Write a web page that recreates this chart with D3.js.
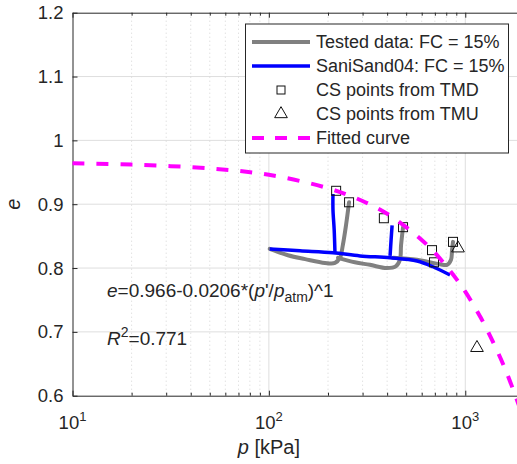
<!DOCTYPE html>
<html>
<head>
<meta charset="utf-8">
<script src="https://cdn.jsdelivr.net/npm/d3@7"></script>
<style>
  body { margin: 0; background: #fff; }
  svg { display: block; font-family: "Liberation Sans", Arial, sans-serif; }
</style>
</head>
<body>
<div id="chart"></div>
<script>
// tested data (gray), one path per shear test, starting from the consolidation line
const testedP1 = [101, 125, 153, 193, 217, 230, 238, 247, 256]
const testedE1 = [0.830, 0.820, 0.814, 0.808, 0.808, 0.816, 0.836, 0.867, 0.903]
const testedP2 = [225, 274, 327, 399, 444, 465, 471, 482]
const testedE2 = [0.816, 0.809, 0.805, 0.800, 0.803, 0.813, 0.836, 0.864]
const testedP3 = [429, 568, 743, 807, 846, 856, 866]
const testedE3 = [0.816, 0.813, 0.806, 0.805, 0.813, 0.828, 0.841]

// SaniSand04 simulation (blue)
const simP1 = [101, 144, 212, 291, 414, 568, 685, 836]
const simE1 = [0.830, 0.827, 0.824, 0.819, 0.816, 0.811, 0.802, 0.789]
const simP2 = [217, 215, 212, 212]
const simE2 = [0.824, 0.860, 0.891, 0.916]
const simP3 = [414, 419, 424]
const simE3 = [0.819, 0.844, 0.867]

// critical state points
const tmdP = [220, 256, 385, 482, 677, 693, 866]
const tmdE = [0.921, 0.903, 0.878, 0.864, 0.828, 0.809, 0.841]
const tmuP = [918, 1147]
const tmuE = [0.831, 0.675]

// fitted curve
const fitP = [10, 20, 50, 100, 200, 300, 400, 500, 600, 700, 800, 900, 1000, 1200, 1400, 1600, 1800, 1900]
const fitE = [0.964, 0.962, 0.956, 0.946, 0.925, 0.905, 0.885, 0.864, 0.844, 0.824, 0.803, 0.783, 0.763, 0.722, 0.681, 0.641, 0.600, 0.580]

const yTicks = [0.6, 0.7, 0.8, 0.9, 1, 1.1, 1.2]
const xDecades = [10, 100, 1000]

const legendLabels = ['Tested data: FC = 15%', 'SaniSand04: FC = 15%', 'CS points from TMD', 'CS points from TMU', 'Fitted curve']

const width = 517
const height = 464
const margin = { left: 72.5, top: 12.7, bottom: 68.3 }
const ink = '#262626'
const grayLine = '#808080'
const blueLine = '#0000ff'
const magenta = '#ff00ff'

const svg = d3.select('#chart').append('svg')
  .attr('width', width)
  .attr('height', height)

const x = d3.scaleLog()
  .domain([10, 2000])
  .range([margin.left, 524.4])
const y = d3.scaleLinear()
  .domain([0.6, 1.2])
  .range([height - margin.bottom, margin.top])

const minorX = []
for (const d of [10, 100, 1000]) {
  for (let k = 2; k <= 9; k++) if (d * k <= 2000) minorX.push(d * k)
}

// grid
const grid = svg.append('g')
grid.selectAll('.ygrid')
  .data(yTicks.slice(1, -1))
  .enter()
  .append('line')
  .attr('x1', margin.left)
  .attr('x2', width)
  .attr('y1', d => y(d))
  .attr('y2', d => y(d))
  .attr('stroke', '#dedede')
  .attr('stroke-width', 1)
grid.selectAll('.xgrid')
  .data(xDecades.slice(1))
  .enter()
  .append('line')
  .attr('x1', d => x(d))
  .attr('x2', d => x(d))
  .attr('y1', margin.top)
  .attr('y2', height - margin.bottom)
  .attr('stroke', '#dedede')
  .attr('stroke-width', 1)
grid.selectAll('.xminor')
  .data(minorX)
  .enter()
  .append('line')
  .attr('x1', d => x(d))
  .attr('x2', d => x(d))
  .attr('y1', margin.top)
  .attr('y2', height - margin.bottom)
  .attr('stroke', '#d4d4d4')
  .attr('stroke-width', 1)
  .attr('stroke-dasharray', '1,3')

// axes
const bottom = height - margin.bottom
const xAxis = d3.axisBottom(x).tickValues(xDecades.concat(minorX)).tickSizeInner(-5).tickSizeOuter(0).tickFormat('')
const xAxisTop = d3.axisTop(x).tickValues(xDecades.concat(minorX)).tickSizeInner(-5).tickSizeOuter(0).tickFormat('')
const yAxis = d3.axisLeft(y).tickValues(yTicks).tickSizeInner(-5).tickSizeOuter(0).tickFormat('')

function styleAxis (g) {
  g.select('.domain').attr('stroke', ink)
  g.selectAll('.tick line').attr('stroke', ink)
  g.selectAll('.tick').filter(d => minorX.includes(d)).select('line').attr('y2', g.classed('top') ? 3 : -3)
}

svg.append('g').attr('class', 'bottom').attr('transform', `translate(0,${bottom})`).call(xAxis).call(styleAxis)
svg.append('g').attr('class', 'top').attr('transform', `translate(0,${margin.top})`).call(xAxisTop).call(styleAxis)
svg.append('g').attr('transform', `translate(${margin.left},0)`).call(yAxis).call(styleAxis)

// tick labels
svg.append('g').selectAll('text')
  .data(yTicks)
  .enter()
  .append('text')
  .attr('x', margin.left - 9)
  .attr('y', d => y(d))
  .attr('dy', '0.35em')
  .attr('text-anchor', 'end')
  .attr('font-size', 18.5)
  .attr('fill', ink)
  .text(d => d3.format('~g')(d))

const xl = svg.append('g').selectAll('text')
  .data(xDecades)
  .enter()
  .append('text')
  .attr('x', d => x(d))
  .attr('y', 429)
  .attr('text-anchor', 'middle')
  .attr('font-size', 18.5)
  .attr('fill', ink)
xl.append('tspan').text('10')
xl.append('tspan').attr('dy', -8).attr('font-size', 13).text(d => Math.round(Math.log10(d)))

const xLabel = svg.append('text')
  .attr('x', x(100))
  .attr('y', 454)
  .attr('text-anchor', 'middle')
  .attr('font-size', 20)
  .attr('fill', ink)
xLabel.append('tspan').attr('font-style', 'italic').text('p')
xLabel.append('tspan').text(' [kPa]')

svg.append('text')
  .attr('transform', `translate(20,${y(0.9)}) rotate(-90)`)
  .attr('text-anchor', 'middle')
  .attr('font-size', 20)
  .attr('font-style', 'italic')
  .attr('fill', ink)
  .text('e')

// curves
const line = d3.line()
  .x(d => x(d[0]))
  .y(d => y(d[1]))
  .curve(d3.curveCatmullRom.alpha(0.5))

const plot = svg.append('g')
const tested = [[testedP1, testedE1], [testedP2, testedE2], [testedP3, testedE3]]
const sims = [[simP1, simE1], [simP2, simE2], [simP3, simE3]]

plot.selectAll('.tested')
  .data(tested.map(([p, e]) => p.map((v, i) => [v, e[i]])))
  .enter()
  .append('path')
  .attr('d', line)
  .attr('fill', 'none')
  .attr('stroke', grayLine)
  .attr('stroke-width', 4)
  .attr('stroke-linejoin', 'round')
  .attr('stroke-linecap', 'round')

plot.selectAll('.sim')
  .data(sims.map(([p, e]) => p.map((v, i) => [v, e[i]])))
  .enter()
  .append('path')
  .attr('d', line)
  .attr('fill', 'none')
  .attr('stroke', blueLine)
  .attr('stroke-width', 3.5)
  .attr('stroke-linejoin', 'round')

plot.selectAll('.tmd')
  .data(tmdP.map((p, i) => [p, tmdE[i]]))
  .enter()
  .append('rect')
  .attr('x', d => x(d[0]) - 4.5)
  .attr('y', d => y(d[1]) - 4.5)
  .attr('width', 9)
  .attr('height', 9)
  .attr('fill', 'none')
  .attr('stroke', '#111')
  .attr('stroke-width', 1)

const tri = d3.symbol().type(d3.symbolTriangle).size(70)
plot.selectAll('.tmu')
  .data(tmuP.map((p, i) => [p, tmuE[i]]))
  .enter()
  .append('path')
  .attr('d', tri)
  .attr('transform', d => `translate(${x(d[0])},${y(d[1])})`)
  .attr('fill', 'none')
  .attr('stroke', '#111')
  .attr('stroke-width', 1)

plot.append('path')
  .datum(fitP.map((p, i) => [p, fitE[i]]))
  .attr('d', line)
  .attr('fill', 'none')
  .attr('stroke', magenta)
  .attr('stroke-width', 4)
  .attr('stroke-dasharray', '12,12')

// annotations
const eq = svg.append('text')
  .attr('x', 107)
  .attr('y', 297)
  .attr('font-size', 19)
  .attr('fill', ink)
eq.append('tspan').attr('font-style', 'italic').text('e')
eq.append('tspan').text('=0.966-0.0206*(')
eq.append('tspan').attr('font-style', 'italic').text('p')
eq.append('tspan').text('\'/')
eq.append('tspan').attr('font-style', 'italic').text('p')
eq.append('tspan').attr('dy', 5).attr('font-size', 14).text('atm')
eq.append('tspan').attr('dy', -5).text(')^1')

const r2 = svg.append('text')
  .attr('x', 107)
  .attr('y', 345)
  .attr('font-size', 19)
  .attr('fill', ink)
r2.append('tspan').attr('font-style', 'italic').text('R')
r2.append('tspan').attr('dy', -8).attr('font-size', 14).text('2')
r2.append('tspan').attr('dy', 8).text('=0.771')

// legend
const legend = svg.append('g')
legend.append('rect')
  .attr('x', 245.5)
  .attr('y', 24)
  .attr('width', 263)
  .attr('height', 129)
  .attr('fill', '#fff')
  .attr('stroke', ink)
  .attr('stroke-width', 1)

const rowY = i => 42 + i * 24
const sampleX1 = 252
const sampleX2 = 310
const rows = legend.selectAll('.row')
  .data(legendLabels)
  .enter()
  .append('g')
  .attr('transform', (d, i) => `translate(0,${rowY(i)})`)
rows.append('text')
  .attr('x', 316)
  .attr('dy', '0.35em')
  .attr('font-size', 18)
  .attr('fill', ink)
  .text(d => d)

const lineRow = (i, color, w, dash) => legend.append('line')
  .attr('x1', sampleX1)
  .attr('x2', sampleX2)
  .attr('y1', rowY(i))
  .attr('y2', rowY(i))
  .attr('stroke', color)
  .attr('stroke-width', w)
  .attr('stroke-dasharray', dash)
lineRow(0, grayLine, 4, null)
lineRow(1, blueLine, 3.5, null)
lineRow(4, magenta, 4, '12,11')
legend.append('rect')
  .attr('x', (sampleX1 + sampleX2) / 2 - 4)
  .attr('y', rowY(2) - 4)
  .attr('width', 8)
  .attr('height', 8)
  .attr('fill', 'none')
  .attr('stroke', '#111')
legend.append('path')
  .attr('d', tri)
  .attr('transform', `translate(${(sampleX1 + sampleX2) / 2},${rowY(3)})`)
  .attr('fill', 'none')
  .attr('stroke', '#111')
</script>
</body>
</html>
